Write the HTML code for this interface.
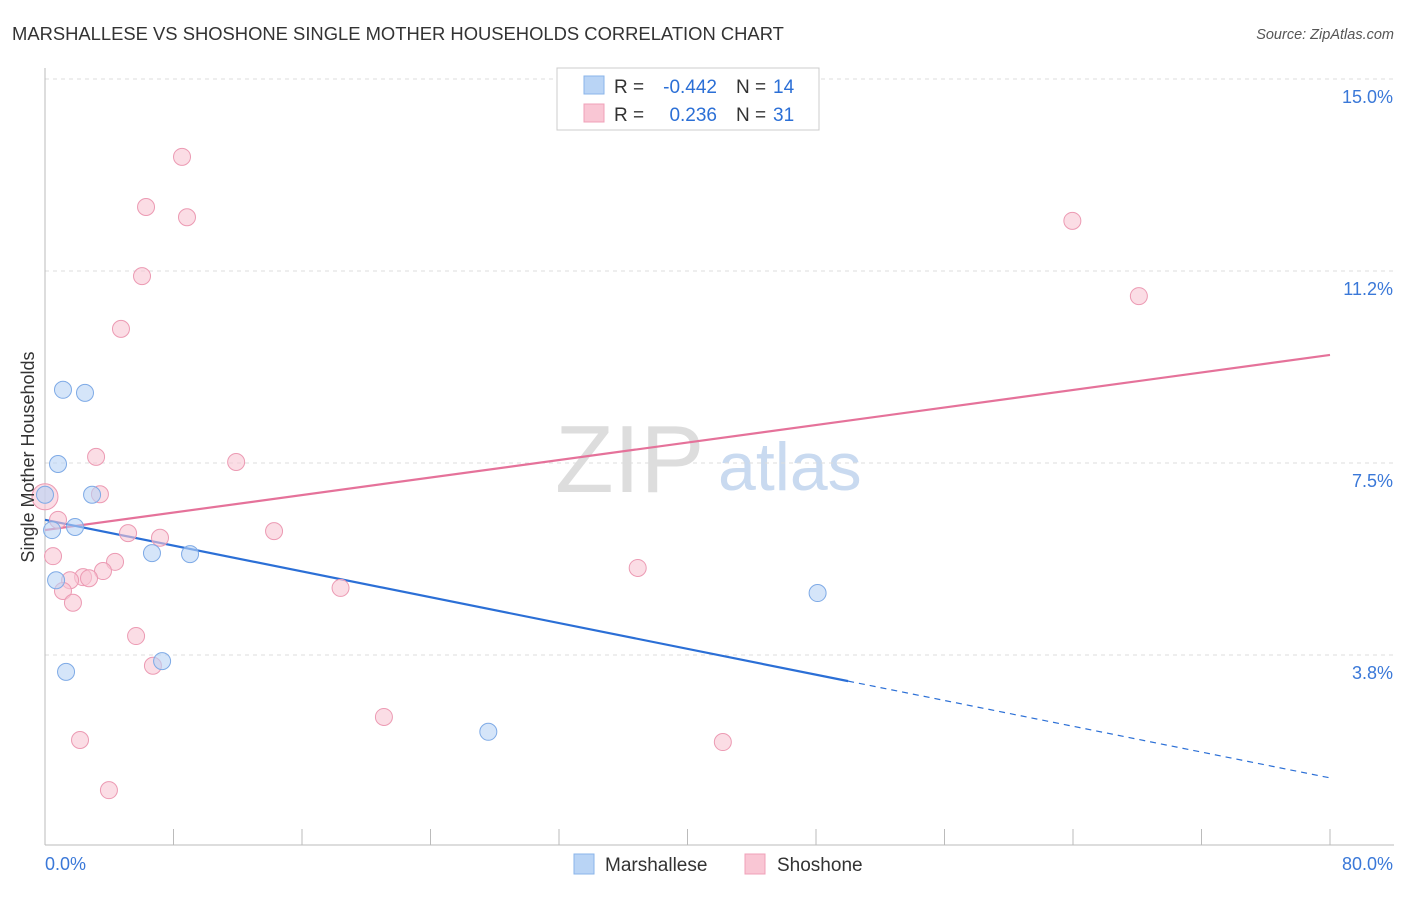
<!DOCTYPE html>
<html><head><meta charset="utf-8"><style>
body{margin:0;background:#fff;font-family:"Liberation Sans",sans-serif;}
svg text{font-family:"Liberation Sans",sans-serif;}
</style></head><body>
<svg id="chart" width="1406" height="892">
<text x="12" y="40" font-size="18.4" fill="#333">MARSHALLESE VS SHOSHONE SINGLE MOTHER HOUSEHOLDS CORRELATION CHART</text>
<text x="1394" y="39" font-size="14.5" fill="#555" font-style="italic" text-anchor="end">Source: ZipAtlas.com</text>
<text x="555" y="492" font-size="96" fill="#ddd" font-family="Liberation Serif">ZIP</text>
<text x="718" y="490" font-size="68" fill="#c9daf0">atlas</text>
<g id="grid"></g><g id="axes"></g><g id="lines"></g><g id="points"></g>
<text transform="translate(34,457) rotate(-90)" font-size="18" fill="#333" text-anchor="middle">Single Mother Households</text>
<g>
<rect x="557" y="68" width="262" height="62" fill="#fff" stroke="#ccc"/>
<rect x="584" y="76" width="20" height="18" fill="#b9d4f5" stroke="#8ab4ea"/>
<rect x="584" y="104" width="20" height="18" fill="#f9c6d4" stroke="#f0a0b8"/>
<text x="614" y="93" font-size="19" fill="#333">R =</text>
<text x="717" y="93" font-size="19" fill="#2b6fd6" text-anchor="end">-0.442</text>
<text x="736" y="93" font-size="19" fill="#333">N =</text>
<text x="773" y="93" font-size="19" fill="#2b6fd6">14</text>
<text x="614" y="121" font-size="19" fill="#333">R =</text>
<text x="717" y="121" font-size="19" fill="#2b6fd6" text-anchor="end">0.236</text>
<text x="736" y="121" font-size="19" fill="#333">N =</text>
<text x="773" y="121" font-size="19" fill="#2b6fd6">31</text>
</g>
<g>
<rect x="574" y="854" width="20" height="20" fill="#b9d4f5" stroke="#8ab4ea"/>
<text x="605" y="871" font-size="19" fill="#333">Marshallese</text>
<rect x="745" y="854" width="20" height="20" fill="#f9c6d4" stroke="#f0a0b8"/>
<text x="777" y="871" font-size="19" fill="#333">Shoshone</text>
</g>
</svg>
<script>
const blueX=[0,1.12,2.49,0.81,2.93,1.87,0.44,6.66,9.03,0.69,7.29,1.31,27.6,48.1];
const blueY=[6.88,8.93,8.87,7.48,6.88,6.25,6.19,5.74,5.72,5.21,3.63,3.42,2.25,4.96];
const pinkX=[8.53,6.29,8.84,6.04,4.73,3.18,11.9,3.42,0,0.81,5.17,7.16,14.26,0.5,4.36,3.61,2.37,2.74,1.56,1.12,1.74,18.4,36.9,5.67,6.72,21.1,2.18,42.2,3.98,63.96,68.1];
const pinkY=[13.48,12.5,12.3,11.15,10.12,7.62,7.52,6.89,6.84,6.39,6.13,6.04,6.17,5.68,5.57,5.39,5.27,5.25,5.21,5.0,4.77,5.06,5.45,4.12,3.54,2.54,2.09,2.05,1.11,12.23,10.76];
const pinkR=[8.5,8.5,8.5,8.5,8.5,8.5,8.5,8.5,13,8.5,8.5,8.5,8.5,8.5,8.5,8.5,8.5,8.5,8.5,8.5,8.5,8.5,8.5,8.5,8.5,8.5,8.5,8.5,8.5,8.5,8.5];
const blueTrend=[6.39,1.35];
const pinkTrend=[6.19,9.61];
const yTicks=[3.75,7.5,11.25,15];
const yTickLabels=["3.8%","7.5%","11.2%","15.0%"];
const xTicks=[0,8,16,24,32,40,48,56,64,72,80];
const NS="http://www.w3.org/2000/svg";
const X=v=>45+v*1285/80, Y=v=>847-v*51.2;
function mk(tag,attrs,parent){const e=document.createElementNS(NS,tag);for(const k in attrs)e.setAttribute(k,attrs[k]);document.getElementById(parent).appendChild(e);return e;}
yTicks.forEach((t,i)=>{
 const g=mk('line',{x1:45,x2:1394,y1:Y(t),y2:Y(t),stroke:'#ddd','stroke-dasharray':'4,4'},'grid');
 
 
 const l=mk('text',{x:1393,y:Y(t)+24,'font-size':18,fill:'#3a78d8','text-anchor':'end'},'axes');
 l.textContent=yTickLabels[i];
 
 
});
const ax=mk('line',{x1:45,x2:1394,y1:845,y2:845,stroke:'#bbb'},'axes');


const ay=mk('line',{x1:45,x2:45,y1:68,y2:845,stroke:'#bbb'},'axes');


xTicks.forEach(t=>{
 const k=mk('line',{x1:X(t),x2:X(t),y1:829,y2:845,stroke:'#bbb'},'axes');
 
 
});
const x0=mk('text',{x:45,y:870,'font-size':18,fill:'#3a78d8'},'axes');x0.textContent=xTicks[0].toFixed(1)+'%';


const x1=mk('text',{x:1393,y:870,'font-size':18,fill:'#3a78d8','text-anchor':'end'},'axes');x1.textContent=xTicks[xTicks.length-1].toFixed(1)+'%';


function pts(xs,ys,rs,fill,stroke,name){xs.forEach((x,i)=>{
 const c=mk('circle',{cx:X(x),cy:Y(ys[i]),r:rs?rs[i]:8.5,fill:fill,'fill-opacity':0.6,stroke:stroke,'stroke-width':1},'points');
 
 
});}
pts(pinkX,pinkY,pinkR,'#f9c6d4','#ec9ab3','shoshone-point');
pts(blueX,blueY,null,'#b9d4f5','#7eaae6','marshallese-point');
const pv=v=>pinkTrend[0]+(pinkTrend[1]-pinkTrend[0])*v/80;
const bv=v=>blueTrend[0]+(blueTrend[1]-blueTrend[0])*v/80;
const pl=mk('line',{x1:X(0),y1:Y(pv(0)),x2:X(80),y2:Y(pv(80)),stroke:'#e5729a','stroke-width':2.2},'lines');


const bl=mk('line',{x1:X(0),y1:Y(bv(0)),x2:X(50),y2:Y(bv(50)),stroke:'#2b6fd6','stroke-width':2.2},'lines');


const bd=mk('line',{x1:X(50),y1:Y(bv(50)),x2:X(80),y2:Y(bv(80)),stroke:'#2b6fd6','stroke-width':1.2,'stroke-dasharray':'6,5'},'lines');


</script>
</body></html>
